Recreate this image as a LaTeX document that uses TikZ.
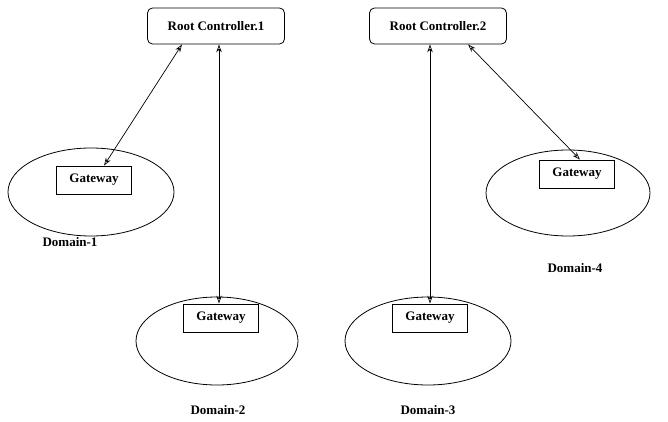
\documentclass[tikz,border=0pt]{standalone}
\usepackage{fontspec}
\setmainfont{Liberation Serif}
\usetikzlibrary{arrows.meta,calc,shapes.geometric}
\begin{document}
\begin{tikzpicture}[x=1pt,y=-1pt,
  txt/.style={font=\bfseries\fontsize{13}{15}\selectfont},
  ctrl/.style={txt,draw,rounded corners=5pt,minimum width=137pt,minimum height=36pt,line width=0.8pt},
  gw/.style={txt,draw,minimum width=75pt,minimum height=28pt,line width=0.8pt},
  dom/.style={draw,ellipse,line width=0.8pt},
  lbl/.style={txt},
  link/.style={{Stealth[open,length=8pt,width=5.5pt]}-{Stealth[open,length=8pt,width=5.5pt]},line width=0.7pt}]
\useasboundingbox (0,0) rectangle (668,422);

% controllers
\node[ctrl] (rc1) at (216,26) {Root Controller.1};
\node[ctrl] (rc2) at (438,26) {Root Controller.2};

% domains
\node[dom,minimum width=166pt,minimum height=88pt] (d1) at (91,192) {};
\node[dom,minimum width=162pt,minimum height=88pt] (d2) at (217,341) {};
\node[dom,minimum width=166pt,minimum height=88pt] (d3) at (428,341) {};
\node[dom,minimum width=164pt,minimum height=86pt] (d4) at (568,193) {};

% gateways
\node[gw] (g1) at (94,180) {Gateway};
\node[gw] (g2) at (221,318) {Gateway};
\node[gw] (g3) at (430,318) {Gateway};
\node[gw] (g4) at (577,174) {Gateway};

% domain labels
\node[lbl] (l1) at (70,242) {Domain-1};
\node[lbl] (l2) at (218,410) {Domain-2};
\node[lbl] (l3) at (428,410) {Domain-3};
\node[lbl] (l4) at (575,268) {Domain-4};

% links
\draw[link] ($(rc1.south)+(-34,0)$) -- ($(g1.north)+(10,0)$);
\draw[link] ($(rc1.south)+(3,0)$) -- ($(g2.north)+(-2,0)$);
\draw[link] ($(rc2.south)+(-8,0)$) -- ($(g3.north)+(0,0)$);
\draw[link] ($(rc2.south)+(30,0)$) -- ($(g4.north)+(3,0)$);
\end{tikzpicture}
\end{document}
